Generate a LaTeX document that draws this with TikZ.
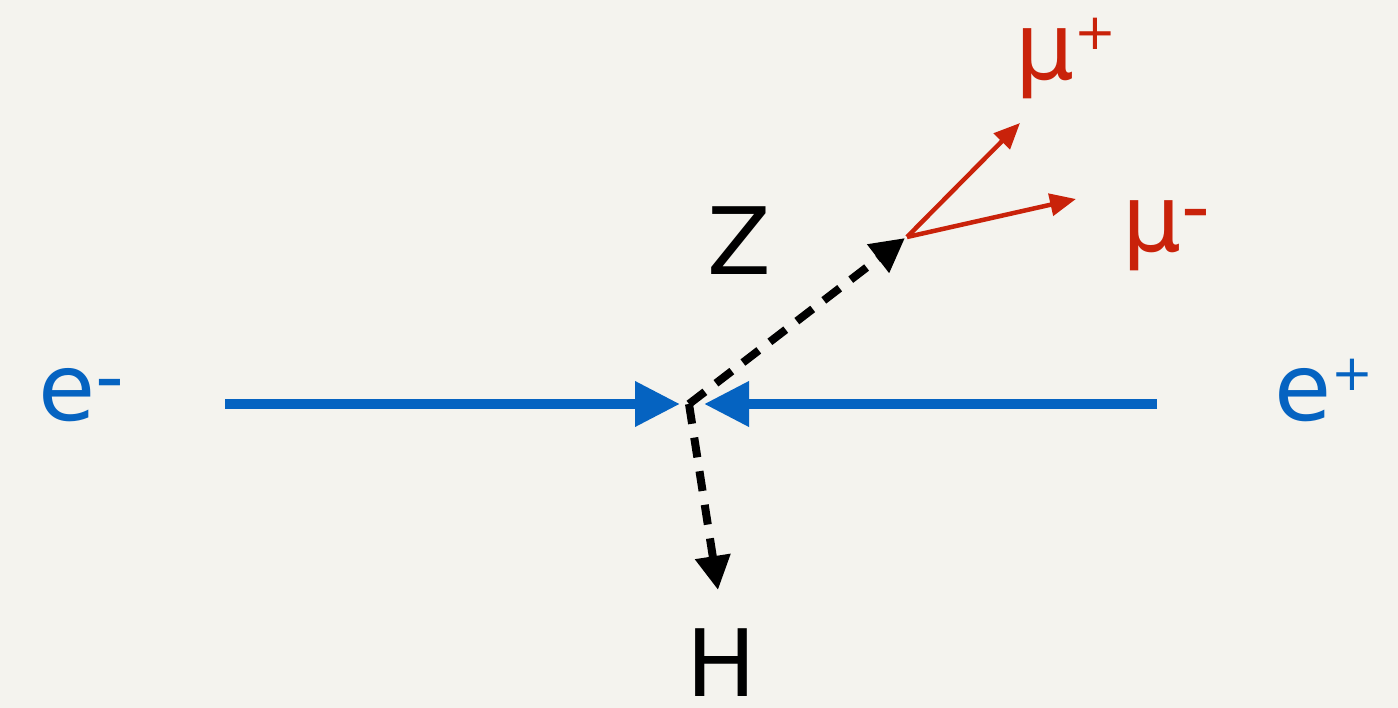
\documentclass[tikz,border=0pt]{standalone}
\usepackage{fontspec}
\setmainfont{DejaVu Sans}
\usetikzlibrary{arrows.meta}
\definecolor{bg}{HTML}{F4F3EE}
\definecolor{eblue}{HTML}{0563C1}
\definecolor{mured}{HTML}{C9220A}
\newcommand\supx[3]{\raisebox{#1}{\fontsize{#2}{#2}\selectfont #3}}
\tikzset{
  lbl/.style={inner sep=0pt, anchor=base west, font=\fontsize{93}{98}\selectfont},
  beam/.style={draw=eblue, line width=10pt, -{Triangle[length=45pt,width=43pt]}},
  boson/.style={draw=black, line width=8pt, dash pattern=on 20pt off 14pt, line join=miter,
    -{Triangle[length=34pt,width=34pt]}},
  muon/.style={draw=mured, line width=4.5pt, -{Triangle[length=26pt,width=22pt]}}
}
\begin{document}
\begin{tikzpicture}[x=1pt,y=-1pt]
\fill[bg] (0,0) rectangle (1398,708);
\useasboundingbox (0,0) rectangle (1398,708);
% labels
\node[lbl, text=eblue] (em) at (38,421) {e\supx{17pt}{80}{-}};
\node[lbl, text=eblue] (ep) at (1274,421) {e\supx{30pt}{50}{+}};
\node[lbl] (z) at (707,275) {Z};
\node[lbl] (h) at (686,696) {H};
\node[lbl, text=mured] (mup) at (1015,80) {μ\supx{30pt}{50}{+}};
\node[lbl, text=mured] (mum) at (1122,252) {μ\supx{17pt}{80}{-}};
% coordinates
\coordinate (lstart) at (225,404);
\coordinate (rstart) at (1157,404);
\coordinate (ltip) at (680,404);
\coordinate (rtip) at (704,404);
\coordinate (v) at (689,404);
\coordinate (ztip) at (905,238);
\coordinate (htip) at (718,590);
\coordinate (mv) at (907,237);
\coordinate (muptip) at (1020,123);
\coordinate (mumtip) at (1076,199);
% connectors
\draw[beam] (lstart) -- (ltip);
\draw[beam] (rstart) -- (rtip);
\draw[boson] (v) -- (ztip);
\draw[boson] (v) -- (htip);
\draw[muon] (mv) -- (muptip);
\draw[muon] (mv) -- (mumtip);
\end{tikzpicture}
\end{document}
